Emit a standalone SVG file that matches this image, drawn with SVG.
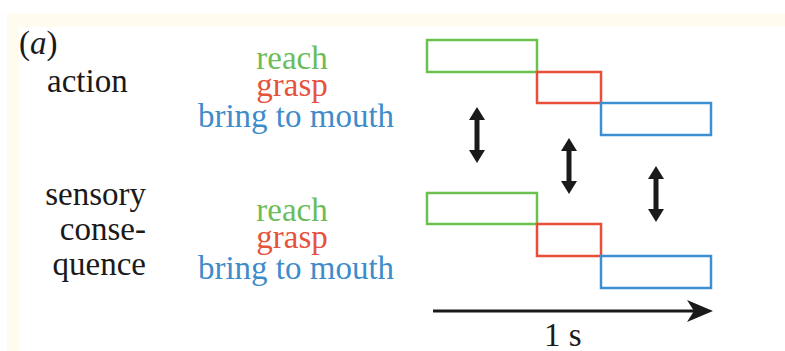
<svg xmlns="http://www.w3.org/2000/svg" width="785" height="351" viewBox="0 0 785 351">
<style>
text{font-family:"Liberation Serif","Times New Roman",serif;font-size:33px}
.k{fill:#1a1a1a}
.g{fill:#6cbd5a}.r{fill:#e5533d}.b{fill:#3f8ccb}
.bg{fill:none;stroke:#6cc04f;stroke-width:2.5}
.br{fill:none;stroke:#e94e38;stroke-width:2.5}
.bb{fill:none;stroke:#3c8fd2;stroke-width:2.5}
.da{fill:#1a1a1a}
</style>
<defs>
<path id="dbl" d="M0,0 L-8,13 L-2.5,13 L-2.5,43 L-8,43 L0,56 L8,43 L2.5,43 L2.5,13 L8,13 Z"/>
</defs>
<rect width="785" height="351" fill="#fff"/>
<rect x="7" y="13" width="778" height="14" fill="#fffcef"/>
<rect x="7" y="13" width="12" height="338" fill="#fffcef"/>
<g id="label-a"><text x="19" y="54" class="k">(<tspan font-style="italic">a</tspan>)</text></g>
<g id="action-labels">
<text x="47" y="92" class="k">action</text>
<text x="292" y="69" class="g" text-anchor="middle">reach</text>
<text x="292" y="96" class="r" text-anchor="middle">grasp</text>
<text x="296" y="127" class="b" text-anchor="middle">bring to mouth</text>
</g>
<g id="sensory-labels">
<text x="146" y="205" class="k" text-anchor="end">sensory</text>
<text x="146" y="240" class="k" text-anchor="end">conse-</text>
<text x="146" y="275" class="k" text-anchor="end">quence</text>
<text x="292" y="221" class="g" text-anchor="middle">reach</text>
<text x="292" y="248" class="r" text-anchor="middle">grasp</text>
<text x="296" y="279" class="b" text-anchor="middle">bring to mouth</text>
</g>
<g id="action-boxes">
<rect x="427" y="40" width="110" height="32" class="bg"/>
<rect x="537" y="72" width="64" height="31" class="br"/>
<rect x="601" y="103" width="110" height="32" class="bb"/>
</g>
<g id="sensory-boxes">
<rect x="427" y="193" width="110" height="31" class="bg"/>
<rect x="537" y="224" width="64" height="32" class="br"/>
<rect x="601" y="256" width="110" height="32" class="bb"/>
</g>
<g id="connectors">
<use href="#dbl" x="477" y="107" class="da"/>
<use href="#dbl" x="569" y="138" class="da"/>
<use href="#dbl" x="656" y="166" class="da"/>
<line x1="433" y1="311" x2="700" y2="311" stroke="#1a1a1a" stroke-width="3"/>
<path d="M713,311 L687,300 L694,311 L687,322 Z" fill="#1a1a1a"/>
</g>
<g id="time-label"><text x="544" y="346" class="k">1 s</text></g>
</svg>
